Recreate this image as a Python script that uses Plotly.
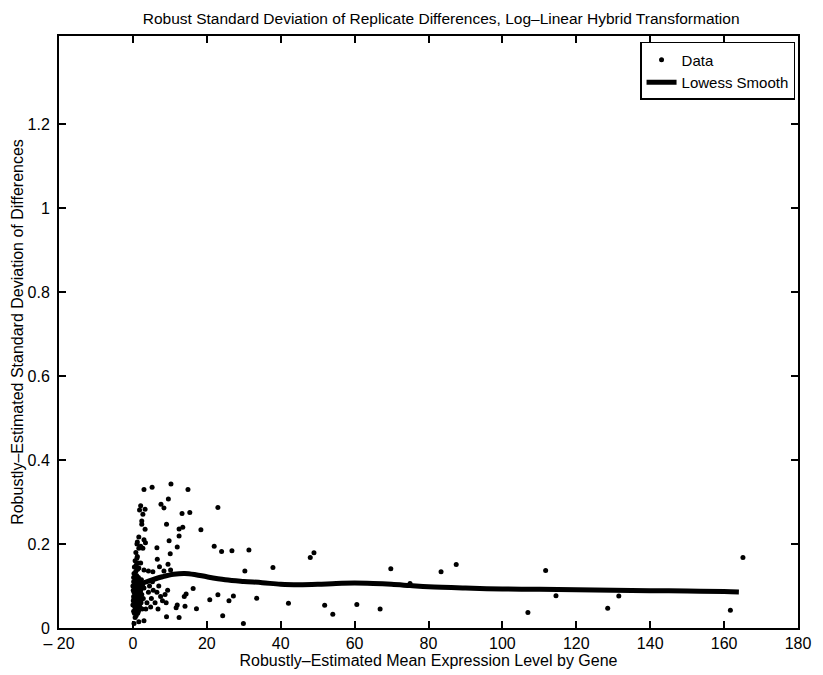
import plotly.graph_objects as go

# Scatter data (mean expression, robust SD)
data_x = [0.2, 0.5, 0.8, 1.1, 0.3, 0.6, 1.0, 1.4, 0.1, 0.4, 0.9, 1.3, 1.7, 0.2, 0.7, 1.2, 1.6, 2.0, 0.5, 1.0,
          1.5, 0.3, 0.8, 1.3, 0.0, 0.4, 0.9, 1.5, 1.9, 2.2, 1.8, 2.4, 2.1, 0.6, 0.1, 0.7, 1.2, 1.6, 2.0, 0.3,
          0.6, 1.1, 1.4, 1.8, 2.3, 0.0, 0.2, 0.9, 1.3, 1.7, 2.5, 2.8, 3.0, 2.6, 0.4, 0.9, 1.4, 0.6, 1.2, 0.8,
          1.6, 1.1, 1.2, 1.6, 2.1, 2.7, 3.0, 3.4, 2.4, 2.4, 3.3, 2.7, 1.8, 2.1, 3.3, 3.0, 0.3, 1.6, 3.0, 1.1,
          2.1, 1.6, 3.0, 0.5, 1.0, 1.9, 0.2, 0.7, 1.5, 2.3,
          4.5, 5.5, 6.5, 7.5, 5.0, 6.0, 8.0, 4.8, 6.8, 8.7, 5.3, 7.0, 4.2, 3.8, 3.5, 9.0, 9.4,
          4.2, 5.4, 6.6, 7.2, 8.4, 10.2, 9.5, 6.5, 10.1, 12.0, 9.8, 12.5, 12.5, 13.5, 9.1, 18.4, 13.3, 15.4,
          7.6, 8.4, 9.6, 23.0, 5.2, 10.3, 14.9,
          16.3, 14.4, 13.9, 23.0, 20.8, 27.2, 26.0, 33.5, 12.0, 11.7, 14.1, 17.2, 9.1, 12.5, 24.3, 29.9, 42.1,
          22.0, 24.0, 26.8, 31.4, 30.3, 37.9,
          48.0, 49.0, 69.8, 83.4, 87.5, 75.0, 51.9, 54.1, 60.6, 66.9, 106.9, 111.7, 114.5, 128.5, 131.5,
          161.7, 165.1]
data_y = [0.040, 0.050, 0.060, 0.045, 0.070, 0.080, 0.075, 0.065, 0.090, 0.100, 0.095, 0.085, 0.090, 0.110, 0.115, 0.105, 0.110, 0.100, 0.120, 0.125,
          0.120, 0.130, 0.135, 0.140, 0.055, 0.035, 0.030, 0.040, 0.050, 0.060, 0.070, 0.080, 0.090, 0.025, 0.065, 0.045, 0.055, 0.075, 0.085, 0.085,
          0.105, 0.115, 0.095, 0.105, 0.115, 0.100, 0.075, 0.065, 0.035, 0.055, 0.045, 0.070, 0.095, 0.100, 0.145, 0.150, 0.155, 0.160, 0.170, 0.180,
          0.190, 0.200, 0.205, 0.217, 0.195, 0.190, 0.210, 0.203, 0.247, 0.255, 0.235, 0.271, 0.281, 0.291, 0.283, 0.330, 0.011, 0.015, 0.017, 0.167,
          0.155, 0.143, 0.138, 0.062, 0.088, 0.078, 0.120, 0.098, 0.108, 0.068,
          0.100, 0.090, 0.085, 0.075, 0.070, 0.060, 0.065, 0.050, 0.045, 0.080, 0.110, 0.100, 0.085, 0.060, 0.045, 0.060, 0.090,
          0.136, 0.134, 0.164, 0.146, 0.136, 0.138, 0.152, 0.191, 0.177, 0.193, 0.208, 0.219, 0.236, 0.240, 0.247, 0.234, 0.273, 0.275,
          0.295, 0.286, 0.307, 0.287, 0.335, 0.343, 0.330,
          0.094, 0.081, 0.075, 0.079, 0.067, 0.076, 0.065, 0.071, 0.055, 0.048, 0.052, 0.046, 0.027, 0.025, 0.029, 0.011, 0.059,
          0.195, 0.182, 0.184, 0.186, 0.136, 0.144,
          0.168, 0.179, 0.141, 0.134, 0.151, 0.106, 0.054, 0.033, 0.056, 0.045, 0.037, 0.137, 0.077, 0.047, 0.076,
          0.042, 0.168]

# Lowess smooth curve
lowess_x = [0, 2, 5, 8, 11, 14, 17, 20, 25, 30, 35, 40, 45, 50, 55, 60, 65, 70, 75, 80,
            90, 100, 110, 120, 130, 140, 150, 160, 164]
lowess_y = [0.100, 0.105, 0.114, 0.122, 0.128, 0.130, 0.127, 0.122, 0.115, 0.111, 0.108, 0.104, 0.103, 0.104,
            0.106, 0.107, 0.106, 0.104, 0.101, 0.098, 0.095, 0.093, 0.092, 0.091, 0.090, 0.089, 0.088, 0.087, 0.086]

x_ticks = [-20, 0, 20, 40, 60, 80, 100, 120, 140, 160, 180]
x_ticktext = ["\u2013 20", "0", "20", "40", "60", "80", "100", "120", "140", "160", "180"]
y_ticks = [0, 0.2, 0.4, 0.6, 0.8, 1.0, 1.2]
y_ticktext = ["0", "0.2", "0.4", "0.6", "0.8", "1", "1.2"]

FONT = "Liberation Sans, Arial, sans-serif"

fig = go.Figure()
fig.add_trace(go.Scatter(x=data_x, y=data_y, mode="markers", name="Data",
                         marker=dict(color="black", size=5)))
fig.add_trace(go.Scatter(x=lowess_x, y=lowess_y, mode="lines", name="Lowess Smooth",
                         line=dict(color="black", width=5, shape="spline")))

axis_common = dict(showline=True, linecolor="black", linewidth=2, mirror="ticks",
                   ticks="inside", ticklen=7, tickcolor="black", tickwidth=1.5,
                   showgrid=False, zeroline=False, automargin=False,
                   tickfont=dict(family=FONT, size=16, color="black"))

fig.update_layout(
    width=823, height=675,
    margin=dict(l=59, r=25, t=36, b=47),
    paper_bgcolor="white", plot_bgcolor="white",
    font=dict(family=FONT, color="black"),
    title=dict(text="Robust Standard Deviation of Replicate Differences, Log\u2013Linear Hybrid Transformation",
               x=0.536, xanchor="center", y=0.973, yanchor="middle",
               font=dict(family=FONT, size=15.5, color="black")),
    xaxis=dict(range=[-20, 180], tickvals=x_ticks, ticktext=x_ticktext, ticklabelstandoff=0,
               title=dict(text="Robustly\u2013Estimated Mean Expression Level by Gene",
                          font=dict(family=FONT, size=16, color="black"), standoff=4),
               **axis_common),
    yaxis=dict(range=[0, 1.41], tickvals=y_ticks, ticktext=y_ticktext, ticklabelstandoff=4,
               title=dict(text="Robustly\u2013Estimated Standard Deviation of Differences",
                          font=dict(family=FONT, size=16, color="black"), standoff=0),
               **axis_common),
    showlegend=True,
    legend=dict(x=0.996, y=0.99, xanchor="right", yanchor="top",
                bordercolor="black", borderwidth=1.5, bgcolor="white",
                font=dict(family=FONT, size=15, color="black"),
                tracegroupgap=0, itemwidth=30),
)

fig.write_html("out.html", config={"displayModeBar": False},
               post_script="document.body.style.margin='0px';")
